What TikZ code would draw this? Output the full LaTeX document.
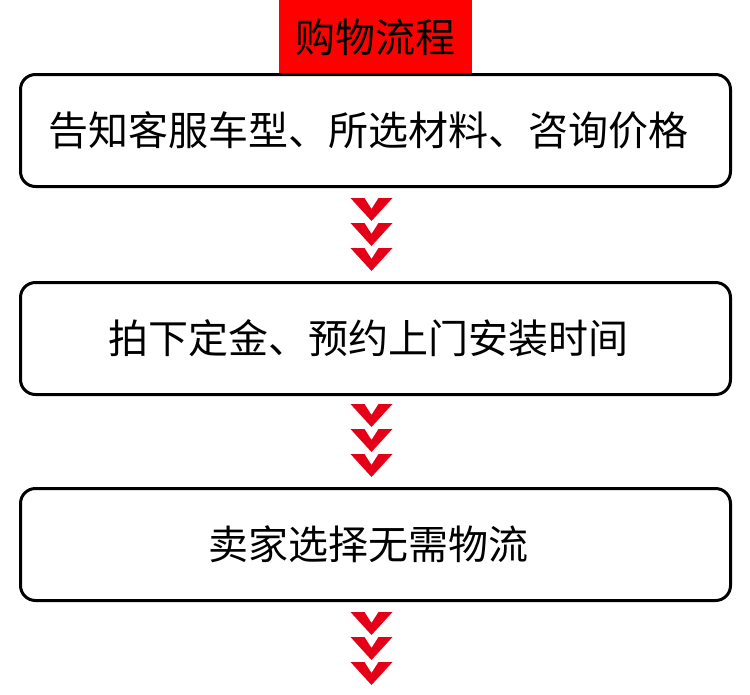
\documentclass[tikz,border=0pt]{standalone}
\usepackage{fontspec}
\setmainfont{Noto Sans CJK SC}
\usepackage{xcolor}
\usepackage{tikz}
\usetikzlibrary{positioning}
\definecolor{chevred}{RGB}{228,0,22}

\begin{document}
\begin{tikzpicture}[
        x=1pt, y=1pt,
        box/.style={rectangle, rounded corners=15pt, draw=black, line width=3pt, minimum width=710pt, minimum height=112pt, font=\fontsize{40}{48}\selectfont},
        titlebox/.style={rectangle, fill=red, minimum width=193pt, minimum height=74pt, font=\fontsize{40}{48}\selectfont},
        chevron/.style={fill=chevred}
    ]
    \useasboundingbox (0,0) rectangle (750,-694);

    \node[titlebox] (title) at (375.5,-37) {购物流程};

    \node[box] (box1) at (375.5,-130.5) {告知客服车型、所选材料、咨询价格\hspace*{14pt}};
    \node[box, below=93pt of box1] (box2) {拍下定金、预约上门安装时间\hspace*{14pt}};
    \node[box, below=91pt of box2] (box3) {卖家选择无需物流\hspace*{14pt}};

    % three chevrons under each step
    \foreach \b/\d in {box1/10, box2/8, box3/10}
        \foreach \k in {0,1,2} {
            \pgfmathsetmacro\t{\d+25*\k}
            \fill[chevron, shift={(\b.south)}] (-25,-\t) -- (-11,-\t) -- (-4,-\t-11) -- (3,-\t) -- (17,-\t) -- (-4,-\t-23) -- cycle;
        }
\end{tikzpicture}
\end{document}
